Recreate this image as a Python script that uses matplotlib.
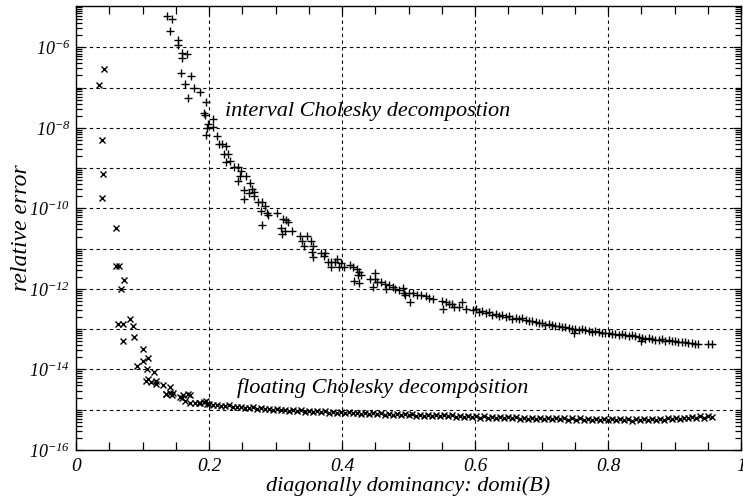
import numpy as np
import matplotlib
matplotlib.use('Agg')
import matplotlib.pyplot as plt
from matplotlib.ticker import LogLocator, FixedLocator, MultipleLocator, NullFormatter

# ---- data ----
# interval Cholesky decomposition ('+')
iv_x = [0.1365, 0.1451, 0.1415, 0.1541, 0.1541, 0.1595, 0.1670, 0.1601, 0.1580, 0.1725,
        0.1640, 0.1770, 0.1860, 0.1690, 0.1950, 0.1925, 0.1935, 0.2060, 0.1985, 0.2060,
        0.1976, 0.1960, 0.2120, 0.2150, 0.2190, 0.2260, 0.2220, 0.2290, 0.2260, 0.2310,
        0.2380, 0.2440, 0.2480, 0.2460, 0.2560, 0.2440, 0.2610, 0.2530, 0.2640, 0.2670,
        0.2600, 0.2680, 0.2520, 0.2730, 0.2790, 0.2840, 0.2780, 0.2870, 0.2880, 0.3020,
        0.3110, 0.3160, 0.3190, 0.2790, 0.3090, 0.3140, 0.3250, 0.3100, 0.3370, 0.3480,
        0.3400, 0.3430, 0.3530, 0.3560, 0.3550, 0.3560, 0.3690, 0.3750, 0.3730, 0.3790,
        0.3840, 0.3890, 0.3930, 0.3830, 0.3950, 0.3990, 0.4030, 0.4120, 0.4170, 0.4230,
        0.4260, 0.4290, 0.4240, 0.4180, 0.4250, 0.4490, 0.4420, 0.4500, 0.4520, 0.4580,
        0.4460, 0.4640, 0.4700, 0.4760, 0.4660, 0.4800, 0.4860, 0.4920, 0.4930, 0.4940,
        0.5010, 0.5070, 0.5130, 0.5020, 0.5190, 0.5260, 0.5310, 0.5370, 0.5500, 0.5560,
        0.5610, 0.5660, 0.5800, 0.5520, 0.5690, 0.5760, 0.5860, 0.5970, 0.6010,
        0.606, 0.611, 0.616, 0.621, 0.626, 0.631, 0.636, 0.641, 0.646, 0.651,
        0.656, 0.661, 0.666, 0.671, 0.676, 0.681, 0.686, 0.691, 0.696, 0.701,
        0.706, 0.711, 0.716, 0.721, 0.726, 0.731, 0.736, 0.741, 0.746, 0.749,
        0.751, 0.756, 0.761, 0.766, 0.771, 0.776, 0.781, 0.786, 0.791, 0.796,
        0.801, 0.806, 0.811, 0.816, 0.821, 0.826, 0.831, 0.836, 0.841, 0.846,
        0.850, 0.851, 0.856, 0.861, 0.866, 0.871, 0.876, 0.881, 0.886, 0.891,
        0.896, 0.901, 0.906, 0.911, 0.916, 0.921, 0.926, 0.931, 0.936, 0.951, 0.956]
iv_err = [6.1e-6, 5.05e-6, 2.49e-6, 1.52e-6, 1.16e-6, 7.1e-7, 6.9e-7, 5.3e-7, 2.3e-7, 1.97e-7,
          1.25e-7, 9.6e-8, 7.9e-8, 5.5e-8, 4.3e-8, 2.3e-8, 2.1e-8, 1.63e-8, 1.24e-8, 1.07e-8,
          9.7e-9, 6.6e-9, 6.2e-9, 3.97e-9, 3.97e-9, 3.54e-9, 2.24e-9, 2.24e-9, 1.42e-9, 1.50e-9,
          1.05e-9, 1.08e-9, 8.6e-10, 6.4e-10, 6.4e-10, 4.9e-10, 4.2e-10, 2.86e-10, 2.98e-10, 2.55e-10,
          2.45e-10, 2.03e-10, 1.68e-10, 1.44e-10, 1.42e-10, 1.15e-10, 8.75e-11, 7.8e-11, 6.9e-11, 7.8e-11,
          5.5e-11, 5.1e-11, 4.6e-11, 3.94e-11, 3.26e-11, 2.79e-11, 2.70e-11, 2.31e-11, 2.06e-11, 2.06e-11,
          1.52e-11, 1.16e-11, 1.58e-11, 1.16e-11, 8.3e-12, 6.2e-12, 7.9e-12, 7.9e-12, 6.6e-12, 4.67e-12,
          4.67e-12, 4.6e-12, 5.4e-12, 3.56e-12, 3.56e-12, 4.3e-12, 3.44e-12, 3.86e-12, 3.56e-12, 3.18e-12,
          2.63e-12, 2.25e-12, 2.25e-12, 1.55e-12, 1.40e-12, 2.44e-12, 1.80e-12, 1.80e-12, 1.49e-12, 1.49e-12,
          1.14e-12, 1.32e-12, 1.23e-12, 1.10e-12, 1.01e-12, 1.01e-12, 9.4e-13, 1.05e-12, 8.05e-13, 7.2e-13,
          8.05e-13, 7.8e-13, 7.2e-13, 4.73e-13, 7.2e-13, 6.7e-13, 5.96e-13, 5.5e-13, 4.93e-13, 4.73e-13,
          4.23e-13, 4.3e-13, 4.73e-13, 3.23e-13, 3.62e-13, 3.57e-13, 3.23e-13, 3.0e-13, 3.23e-13,
          2.72e-13, 2.9e-13, 2.48e-13, 2.62e-13, 2.29e-13, 2.45e-13, 2.13e-13, 2.25e-13, 1.97e-13, 2.08e-13,
          1.82e-13, 1.92e-13, 1.78e-13, 1.85e-13, 1.69e-13, 1.62e-13, 1.57e-13, 1.50e-13, 1.40e-13, 1.46e-13,
          1.29e-13, 1.36e-13, 1.29e-13, 1.22e-13, 1.20e-13, 1.14e-13, 1.11e-13, 1.06e-13, 1.03e-13, 7.9e-14,
          1.00e-13, 9.55e-14, 9.9e-14, 9.4e-14, 8.9e-14, 8.5e-14, 8.8e-14, 8.4e-14, 8.0e-14, 7.9e-14,
          8.2e-14, 7.6e-14, 7.4e-14, 7.3e-14, 7.6e-14, 7.3e-14, 6.9e-14, 7.05e-14, 6.6e-14, 6.3e-14,
          5.0e-14, 6.1e-14, 5.8e-14, 6.0e-14, 5.7e-14, 5.5e-14, 5.4e-14, 5.6e-14, 5.2e-14, 5.3e-14,
          5.0e-14, 5.1e-14, 4.8e-14, 4.9e-14, 4.8e-14, 4.6e-14, 4.6e-14, 4.4e-14, 4.3e-14, 4.3e-14, 4.4e-14]

# floating Cholesky decomposition ('x')
fl_x = [0.0425, 0.035, 0.039, 0.041, 0.039, 0.060, 0.0596, 0.065, 0.0716, 0.067,
        0.0635, 0.070, 0.0806, 0.086, 0.070, 0.087, 0.100, 0.101, 0.109, 0.092,
        0.1065, 0.1175, 0.109, 0.1196, 0.106, 0.113, 0.121, 0.131, 0.142, 0.1355,
        0.141, 0.146, 0.136, 0.144, 0.156, 0.161, 0.159, 0.164, 0.169, 0.171,
        0.172, 0.179, 0.185, 0.186, 0.192, 0.196, 0.197,
        0.200, 0.206, 0.212, 0.218, 0.224, 0.230, 0.236, 0.242, 0.248, 0.254,
        0.260, 0.266, 0.272, 0.278, 0.284, 0.290, 0.296, 0.302, 0.308, 0.314,
        0.320, 0.326, 0.332, 0.338, 0.344, 0.350, 0.356, 0.362, 0.368, 0.374,
        0.380, 0.386, 0.392, 0.398, 0.404, 0.410, 0.416, 0.422, 0.428, 0.434,
        0.440, 0.446, 0.452, 0.458, 0.464, 0.470, 0.476, 0.482, 0.488, 0.494,
        0.500, 0.506, 0.512, 0.518, 0.524, 0.530, 0.536, 0.542, 0.548, 0.554,
        0.560, 0.566, 0.572, 0.578, 0.584, 0.590, 0.596, 0.602, 0.608, 0.614,
        0.620, 0.626, 0.632, 0.638, 0.644, 0.650, 0.656, 0.662, 0.668, 0.674,
        0.680, 0.686, 0.692, 0.698, 0.704, 0.710, 0.716, 0.722, 0.728, 0.734,
        0.740, 0.746, 0.752, 0.758, 0.764, 0.770, 0.776, 0.782, 0.788, 0.794,
        0.800, 0.806, 0.812, 0.818, 0.824, 0.830, 0.836, 0.842, 0.848, 0.854,
        0.860, 0.866, 0.872, 0.878, 0.884, 0.890, 0.896, 0.902, 0.908, 0.914,
        0.920, 0.926, 0.932, 0.938, 0.944, 0.950, 0.956]
fl_err = [2.95e-7, 1.15e-7, 5.1e-9, 7.2e-10, 1.8e-10, 3.2e-11, 3.8e-12, 3.8e-12, 1.7e-12, 1.0e-12,
          1.35e-13, 1.35e-13, 1.78e-13, 1.17e-13, 5.1e-14, 6.3e-14, 3.2e-14, 1.62e-14, 1.9e-14, 1.23e-14,
          1.02e-14, 8.7e-15, 5.75e-15, 5.1e-15, 5.2e-15, 4.9e-15, 4.4e-15, 4.2e-15, 3.6e-15, 2.45e-15,
          2.6e-15, 2.6e-15, 2.5e-15, 2.3e-15, 2.07e-15, 2.3e-15, 1.96e-15, 1.65e-15, 2.46e-15, 2.3e-15,
          1.47e-15, 1.47e-15, 1.43e-15, 1.5e-15, 1.55e-15, 1.65e-15, 1.4e-15,
          13.8e-16, 12.9e-16, 13.4e-16, 12.5e-16, 12.2e-16, 12.8e-16, 11.9e-16, 11.4e-16, 12.0e-16, 11.2e-16,
          10.8e-16, 11.5e-16, 10.6e-16, 10.9e-16, 10.2e-16, 10.7e-16, 9.9e-16, 10.3e-16, 9.6e-16, 10.1e-16,
          9.4e-16, 9.8e-16, 9.2e-16, 9.7e-16, 9.0e-16, 9.4e-16, 8.8e-16, 9.3e-16, 8.6e-16, 9.1e-16,
          8.5e-16, 8.9e-16, 8.3e-16, 8.8e-16, 8.2e-16, 8.7e-16, 8.1e-16, 8.5e-16, 7.9e-16, 8.4e-16,
          7.8e-16, 8.3e-16, 7.7e-16, 8.1e-16, 7.6e-16, 8.0e-16, 7.5e-16, 7.9e-16, 7.3e-16, 7.8e-16,
          7.2e-16, 7.7e-16, 7.1e-16, 7.6e-16, 7.0e-16, 7.5e-16, 6.9e-16, 7.4e-16, 6.8e-16, 7.3e-16,
          6.8e-16, 7.2e-16, 6.7e-16, 7.1e-16, 6.6e-16, 7.0e-16, 6.5e-16, 6.9e-16, 6.4e-16, 6.8e-16,
          6.3e-16, 6.7e-16, 6.2e-16, 6.6e-16, 6.2e-16, 6.5e-16, 6.1e-16, 6.5e-16, 6.0e-16, 6.4e-16,
          6.0e-16, 6.4e-16, 5.9e-16, 6.3e-16, 5.9e-16, 6.3e-16, 5.8e-16, 6.2e-16, 5.8e-16, 6.2e-16,
          5.7e-16, 6.1e-16, 5.7e-16, 6.1e-16, 5.7e-16, 6.0e-16, 5.6e-16, 6.0e-16, 5.6e-16, 6.0e-16,
          5.6e-16, 5.9e-16, 5.5e-16, 5.9e-16, 5.5e-16, 5.8e-16, 5.4e-16, 5.8e-16, 5.5e-16, 5.8e-16,
          5.5e-16, 5.9e-16, 5.6e-16, 6.0e-16, 5.7e-16, 6.1e-16, 5.8e-16, 6.3e-16, 5.9e-16, 6.4e-16,
          6.1e-16, 6.6e-16, 6.2e-16, 6.8e-16, 6.4e-16, 6.9e-16, 6.6e-16]

y_tick_pos = [1e-16, 1e-14, 1e-12, 1e-10, 1e-8, 1e-6]
y_tick_lab = [r'$10^{-16}$', r'$10^{-14}$', r'$10^{-12}$', r'$10^{-10}$', r'$10^{-8}$', r'$10^{-6}$']
x_tick_pos = [0, 0.2, 0.4, 0.6, 0.8, 1.0]
x_tick_lab = ['0', '0.2', '0.4', '0.6', '0.8', '1']

# ---- style ----
plt.rcParams['font.family'] = ['Liberation Serif', 'DejaVu Serif']
plt.rcParams['font.style'] = 'italic'
plt.rcParams['mathtext.fontset'] = 'custom'
plt.rcParams['mathtext.rm'] = 'Liberation Serif:italic'
plt.rcParams['mathtext.it'] = 'Liberation Serif:italic'

fig = plt.figure(figsize=(7.43, 5.04), dpi=100)
ax = fig.add_axes([76 / 743, 1 - 450 / 504, 665 / 743, 444 / 504])

ax.plot(iv_x, iv_err, linestyle='none', marker='+', color='black', markersize=5.5, markeredgewidth=1.0)
ax.plot(fl_x, fl_err, linestyle='none', marker='x', color='black', markersize=4.5, markeredgewidth=1.0)

ax.set_yscale('log')
ax.set_xlim(0, 1)
ax.set_ylim(1e-16, 10 ** -4.974)

# grid lines: every decade horizontally, every 0.2 vertically
for k in range(-15, -5):
    ax.axhline(10.0 ** k, color='black', linestyle=(0, (3, 3)), linewidth=0.8, zorder=0)
for v in [0.2, 0.4, 0.6, 0.8]:
    ax.axvline(v, color='black', linestyle=(0, (3, 3)), linewidth=0.8, zorder=0)

ax.yaxis.set_major_locator(FixedLocator(y_tick_pos))
ax.set_yticklabels(y_tick_lab)
ax.yaxis.set_minor_locator(LogLocator(base=10, subs=np.arange(1, 10), numticks=30))
ax.yaxis.set_minor_formatter(NullFormatter())
ax.set_xticks(x_tick_pos)
ax.set_xticklabels(x_tick_lab)
ax.xaxis.set_minor_locator(MultipleLocator(0.05))

ax.tick_params(which='both', direction='in', top=True, right=True, width=0.9)
ax.tick_params(axis='x', which='both', length=6, pad=6, labelsize=14)
ax.tick_params(axis='y', which='major', length=6, pad=4, labelsize=13)
ax.tick_params(axis='y', which='minor', length=4)
for s in ax.spines.values():
    s.set_linewidth(1.0)

ax.set_xlabel('diagonally dominancy: domi(B)', fontsize=16, labelpad=1)
ax.set_ylabel('relative error', fontsize=17)
ax.yaxis.set_label_coords(-0.066, 0.5)

ax.text(0.2235, 2.48e-8, 'interval Cholesky decompostion', fontsize=16, va='center', ha='left')
ax.text(0.2416, 3.47e-15, 'floating Cholesky decomposition', fontsize=16, va='center', ha='left')

fig.savefig('out.png', dpi=100)
